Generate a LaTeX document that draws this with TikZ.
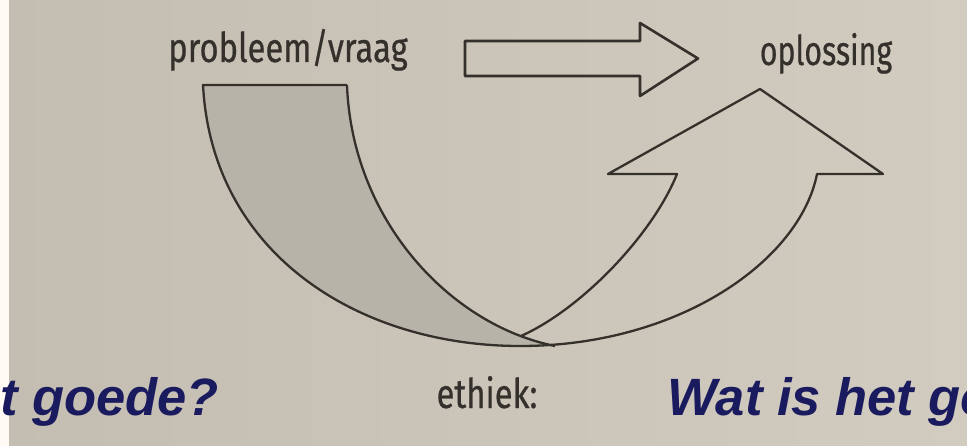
\documentclass[tikz,border=0pt]{standalone}
\usepackage{fontspec}
\newfontfamily\bookfont[FakeBold=0.6]{Fira Sans}
\newfontfamily\slidefont{Liberation Sans}
\newcommand{\narrow}[1]{\scalebox{0.8}[1]{#1}}
\definecolor{paperL}{RGB}{196,190,178}
\definecolor{paperR}{RGB}{210,204,192}
\definecolor{margin}{RGB}{255,251,244}
\definecolor{ink}{RGB}{52,48,43}
\definecolor{shadegray}{RGB}{184,179,168}
\definecolor{slideblue}{RGB}{26,26,94}

\begin{document}
\begin{tikzpicture}[x=1pt, y=-1pt, line join=round,
	outline/.style={draw=ink, line width=2.6pt},
	booklbl/.style={font=\bookfont\fontsize{41}{48}\selectfont, text=ink, inner sep=0pt, anchor=base},
	question/.style={font=\slidefont\bfseries\itshape\fontsize{52.5}{60}\selectfont, text=slideblue, inner sep=0pt}]
	\useasboundingbox (0,0) rectangle (967,446);
	\shade[left color=paperL, right color=paperR] (0,0) rectangle (967,446);
	\fill[margin] (0,0) rectangle (9,446);
	% labels from the book
	\node[booklbl] (prob) at (288,62) {\narrow{probleem/vraag}};
	\node[booklbl] (opl) at (826,65) {\scalebox{0.74}[1]{oplossing}};
	\node[booklbl] (eth) at (487,408) {\narrow{ethiek:}};
	% hollow arrow to the right
	\draw[outline] (465,41) -- (640,41) -- (640,23) -- (698,58.5) -- (640,96) -- (640,76) -- (465,76) -- cycle;
	% shaded left leg of the U-turn
	\fill[shadegray] (203,85) -- (347,85) .. controls (352,220) and (450,325) .. (555,346)
		-- (520,346) .. controls (360,346) and (212,255) .. (203,85) -- cycle;
	% U-turn arrow
	\draw[outline, line width=2.3pt] (347,85) .. controls (352,220) and (450,325) .. (555,346) coordinate[pos=0.89] (meet);
	\draw[outline, line width=2.3pt] (meet) .. controls (580,310) and (652,236) .. (677,174)
		-- (608,174) -- (760,89) -- (883,174) -- (817,174)
		.. controls (800,260) and (680,346) .. (520,346)
		.. controls (360,346) and (212,255) .. (203,85) -- (347,85);
	% slide text
	\node[question, anchor=base east] (left q) at (219,415) {et goede?};
	\node[question, anchor=base west] (right q) at (667,415) {Wat is het go};
\end{tikzpicture}
\end{document}
